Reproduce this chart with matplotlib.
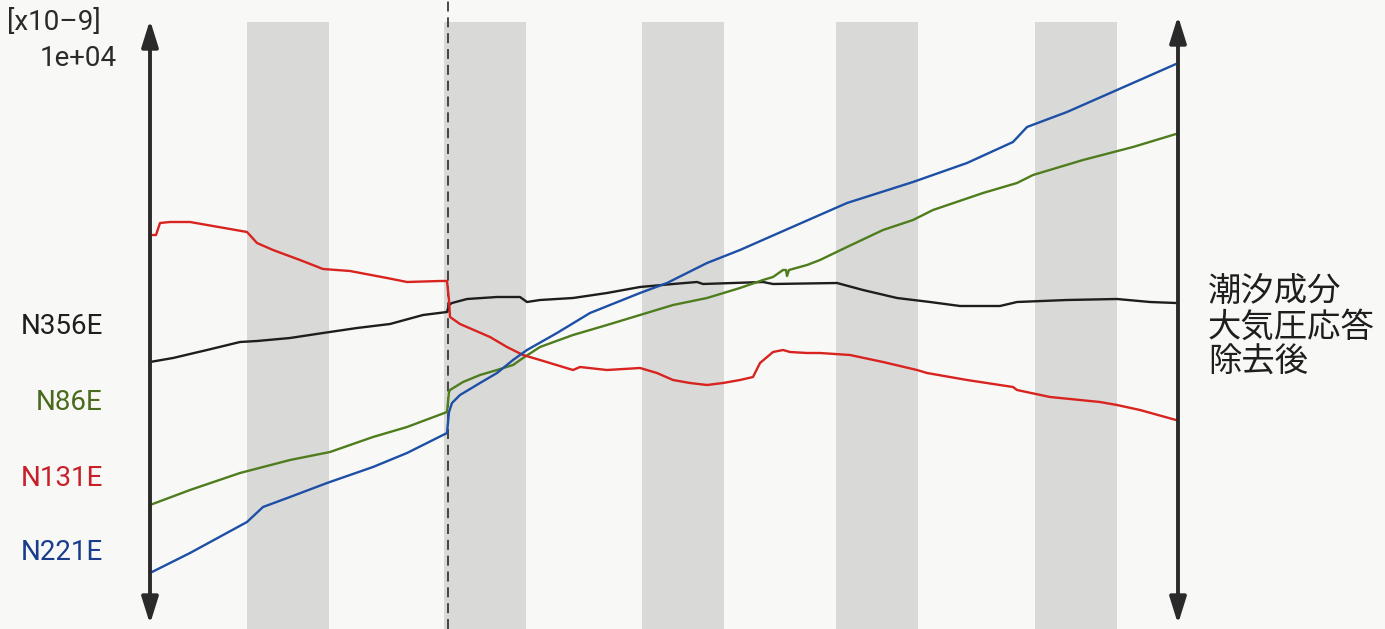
import matplotlib
matplotlib.use("Agg")
import matplotlib.pyplot as plt
from matplotlib.patches import ArrowStyle

# ---- data (time index, strain in arbitrary x10^-9 units) ----
red_t = [0, 0.6, 1.0, 2.0, 4.0, 8.0, 9.7, 10.7, 12.3, 15.0, 17.3, 20.0, 23.7, 25.7, 29.0, 29.7,
         29.9, 30.0, 31.0, 34.0, 35.7, 37.3, 39.0, 42.3, 43.0, 45.7, 49.0, 50.7, 52.3, 54.0,
         55.7, 57.3, 59.0, 60.3, 61.0, 62.3, 63.3, 64.0, 65.7, 67.0, 70.0, 73.3, 76.7, 77.7,
         81.7, 86.3, 86.7, 90.0, 95.0, 96.7, 99.0, 102.6]
red_v = [365, 365, 377, 378, 378, 371, 368, 357, 350, 340, 331, 329, 322, 318, 319, 319,
         300, 283, 276, 263, 253, 245, 240, 230, 233, 230, 232, 227, 220, 217,
         215, 217, 220, 223, 237, 248, 250, 248, 247, 247, 245, 238, 230, 227,
         220, 213, 210, 203, 198, 195, 190, 180]

black_t = [0, 2.3, 5.7, 9.0, 10.7, 14.0, 17.3, 20.7, 24.0, 27.3, 29.7, 29.9, 30.2, 31.7, 34.7,
           37.0, 37.7, 39.0, 42.3, 45.7, 49.0, 52.3, 54.7, 55.3, 61.3, 62.3, 68.7, 71.3, 74.7,
           78.0, 81.0, 85.0, 86.7, 91.7, 96.7, 100.0, 102.6]
black_v = [238, 242, 250, 258, 259, 262, 267, 272, 276, 285, 288, 295, 297, 301, 303,
           303, 298, 300, 302, 307, 313, 316, 318, 316, 318, 316, 317, 310, 302,
           298, 294, 294, 298, 300, 301, 298, 297]

green_t = [0, 4.0, 9.0, 14.0, 18.0, 22.3, 25.7, 29.7, 29.9, 30.0, 31.3, 33.0, 34.7, 36.3, 37.3,
           39.0, 42.3, 45.7, 49.0, 52.3, 55.7, 59.0, 61.3, 62.3, 63.3, 63.6, 63.7, 63.9, 65.7,
           67.0, 69.7, 73.3, 76.3, 78.3, 83.3, 86.7, 88.3, 93.3, 98.3, 102.6]
green_v = [95, 110, 127, 140, 148, 163, 173, 188, 208, 210, 218, 225, 230, 235, 242,
           253, 265, 275, 285, 295, 302, 312, 320, 323, 330, 330, 324, 330, 335,
           340, 353, 370, 380, 390, 407, 417, 425, 440, 453, 466]

blue_t = [0, 4.0, 9.7, 11.3, 14.0, 17.7, 22.3, 25.7, 29.7, 29.9, 30.2, 31.0, 33.0, 34.7, 36.3,
          37.7, 40.7, 44.0, 49.0, 51.7, 55.7, 59.0, 64.0, 69.7, 76.3, 81.7, 86.3, 87.7, 91.7,
          96.7, 102.6]
blue_v = [27, 47, 78, 93, 103, 117, 133, 147, 167, 188, 197, 205, 217, 227, 240,
          250, 267, 287, 307, 317, 337, 350, 372, 397, 418, 437, 458, 473, 488,
          510, 536]

band_starts = [9.7, 29.4, 49.2, 68.6, 88.5]
band_width = 8.2
event_t = 29.8

series_labels = ["N356E", "N86E", "N131E", "N221E"]
series_label_y = [274, 197, 122, 48]
line_colors = ["#1e1e1e", "#4f7d1e", "#d8231f", "#1d4fa6"]
label_colors = ["#1e1e1e", "#4a6a1c", "#c8202a", "#1a3c8c"]

unit_text = "[x10–9]"
scale_text = "1e+04"
note_text = "潮汐成分\n大気圧応答\n除去後"

# ---- figure ----
W, H = 1385, 629
fig = plt.figure(figsize=(W / 100, H / 100), dpi=100)
fig.patch.set_facecolor("#f8f8f6")
ax = fig.add_axes([0, 0, 1, 1])
ax.set_facecolor("#f8f8f6")
ax.set_xlim(-15, 123.5)
ax.set_ylim(-29, 600)
ax.axis("off")

lat_font = ["Roboto", "DejaVu Sans"]

for s in band_starts:
    ax.axvspan(s, s + band_width, ymin=0, ymax=0.965, color="#d9d9d8", lw=0, zorder=0)

ax.axvline(event_t, color="#2b2b2b", lw=1.2, dashes=(6, 3.5), zorder=1)

lw = 1.7
ax.plot(black_t, black_v, color=line_colors[0], lw=lw, zorder=3)
ax.plot(green_t, green_v, color=line_colors[1], lw=lw, zorder=3)
ax.plot(red_t, red_v, color=line_colors[2], lw=lw, zorder=3)
ax.plot(blue_t, blue_v, color=line_colors[3], lw=lw, zorder=3)

arrow_style = ArrowStyle("<|-|>", head_length=1.6, head_width=0.5)
for xa, ytop in [(0, 580), (102.8, 584)]:
    ax.annotate("", xy=(xa, ytop), xytext=(xa, -24),
                arrowprops=dict(arrowstyle=arrow_style, mutation_scale=10,
                                color="#2a2a2a", lw=2.8, shrinkA=0, shrinkB=0),
                zorder=5)

ax.text(-14.3, 578, unit_text, fontsize=20, family=lat_font, color="#2a2a2a",
        ha="left", va="center")
ax.text(-3.3, 541, scale_text, fontsize=20, family=lat_font, color="#2a2a2a",
        ha="right", va="center")

for lab, yv, c in zip(series_labels, series_label_y, label_colors):
    ax.text(-4.7, yv, lab, fontsize=20, family=lat_font, color=c,
            ha="right", va="center")

ax.text(105.8, 273, note_text, fontsize=24,
        family=["Noto Sans CJK JP", "DejaVu Sans"], color="#1e1e1e",
        ha="left", va="center", linespacing=1.02)

fig.savefig("out.png", dpi=100, facecolor=fig.get_facecolor())
